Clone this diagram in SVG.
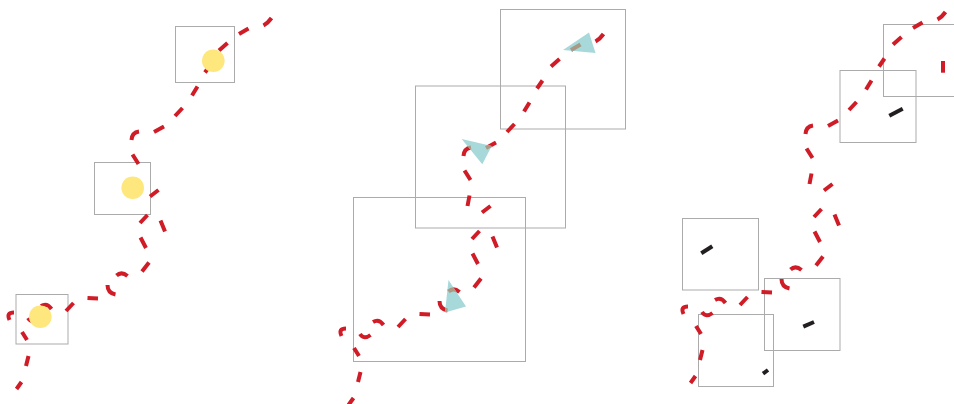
<svg xmlns="http://www.w3.org/2000/svg" width="954" height="404" viewBox="0 0 954 404">
<style>
.frame{fill:none;stroke:#ababab;stroke-width:1}
.dash{fill:none;stroke:#d01c27;stroke-width:4;stroke-linecap:butt}
.dash.under{stroke:#a99985}
.sun{fill:#fee77c}
.tri{fill:#a7d8da}
.tick{fill:none;stroke:#231f20;stroke-width:4}
.redtick{fill:none;stroke:#d01c27;stroke-width:4}
</style>
<defs>
<path id="route" d="M690.5,383 L695.5,376 M700,360 L702.5,350 M701,334 L696,326 M683.5,314 Q680,306.5 688,306.5 M702,312 Q706,318 712.5,313 M715,300 Q721,296.5 725.5,303 M740,305 L747.5,297 M761.5,292 L772,292.5 M789.5,288.5 Q781.5,287 781.5,279 M790.5,269.5 Q795.5,265 801.5,270 M816,265.5 L823,256.5 M820,242 L814.5,231.5 M814,217 L821.5,209 M834.5,214.5 L839,225.5 M824,190.5 L832.5,184 M811.5,173.5 L809.5,184 M806.5,148.5 L812.5,158 M805.5,134 Q806,126.5 813,125.5 M828,126 L838,120.5 M849,110 L856.5,102 M866,89.5 L871.5,80.5 M879,66.5 L884.5,58.5 M893,44.5 L901.5,37 M913,28 L922.5,22.5 M937.5,19.5 Q942,17 945.5,12"/>
<clipPath id="triClip">
<polygon points="563,50 589,32.5 595.5,53"/>
<polygon points="461.7,139 491.7,146 482.3,164.3"/>
<polygon points="448.5,280 466,306.5 445,312.5"/>
</clipPath>
</defs>

<g id="frames">
<rect id="frame-1a" class="frame" x="175.5" y="26.5" width="59" height="56"/>
<rect id="frame-1b" class="frame" x="94.5" y="162.5" width="56" height="52"/>
<rect id="frame-1c" class="frame" x="16" y="294.5" width="52" height="49.5"/>
<rect id="frame-2a" class="frame" x="500.5" y="9.5" width="125" height="119.5"/>
<rect id="frame-2b" class="frame" x="415.5" y="86" width="150" height="142"/>
<rect id="frame-2c" class="frame" x="353.5" y="197.5" width="172" height="164"/>
<rect id="frame-3a" class="frame" x="883.5" y="24.5" width="76" height="72"/>
<rect id="frame-3b" class="frame" x="840" y="70.5" width="76" height="72"/>
<rect id="frame-3c" class="frame" x="682.5" y="218.5" width="76" height="71.5"/>
<rect id="frame-3d" class="frame" x="764.5" y="278.5" width="75.5" height="72"/>
<rect id="frame-3e" class="frame" x="698.5" y="314.5" width="75" height="72"/>
</g>

<g id="connectors">
<use href="#route" class="dash" transform="translate(-674,6)"/>
<use href="#route" class="dash" transform="translate(-342,22)"/>
<use href="#route" class="dash"/>
</g>

<g id="panel-1">
<circle id="sun-a" class="sun" cx="213.3" cy="60.7" r="11.3"/>
<circle id="sun-b" class="sun" cx="132.7" cy="187.7" r="11.3"/>
<circle id="sun-c" class="sun" cx="40.3" cy="316.7" r="11.3"/>
</g>

<g id="panel-2">
<polygon id="tri-a" class="tri" points="563,50 589,32.5 595.5,53"/>
<polygon id="tri-b" class="tri" points="461.7,139 491.7,146 482.3,164.3"/>
<polygon id="tri-c" class="tri" points="448.5,280 466,306.5 445,312.5"/>
<g clip-path="url(#triClip)">
<use href="#route" class="dash under" transform="translate(-342,22)"/>
</g>
</g>

<g id="panel-3">
<line id="tick-a" class="redtick" x1="943" y1="61" x2="943" y2="72.7"/>
<line id="tick-b" class="tick" x1="889.3" y1="115.7" x2="902.7" y2="108.7"/>
<line id="tick-c" class="tick" x1="701.3" y1="253.3" x2="712.3" y2="246.3"/>
<line id="tick-d" class="tick" x1="803.3" y1="326.7" x2="814" y2="322"/>
<line id="tick-e" class="tick" x1="763" y1="373.7" x2="768" y2="370"/>
</g>
</svg>
